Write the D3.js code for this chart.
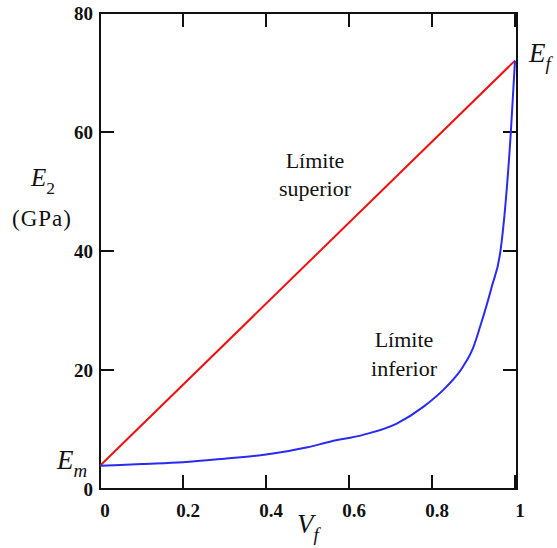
<!DOCTYPE html>
<html lang="es">
<head>
  <meta charset="UTF-8">
  <title>Límites E2</title>
  <script src="https://cdn.jsdelivr.net/npm/d3@7"></script>
  <style>
    * { margin: 0; padding: 0; }
    body { background: #fff; }
  </style>
</head>
<body>
  <div id="chart"></div>
  <script>
  // datos
  var xTicks = [0, 0.2, 0.4, 0.6, 0.8, 1];
  var yTicks = [0, 20, 40, 60, 80];
  var xTickLabels = ["0", "0.2", "0.4", "0.6", "0.8", "1"];
  // limite superior (regla de mezclas)
  var supVf = [0, 1];
  var supE = [3.9, 72];
  // limite inferior
  var infVf = [0, 0.1, 0.2, 0.3, 0.4, 0.5, 0.554, 0.634, 0.715, 0.779, 0.835, 0.875, 0.9, 0.916, 0.944, 0.965, 0.99, 1];
  var infE  = [3.9, 4.2, 4.5, 5.1, 5.8, 7.0, 7.95, 9.1, 11.0, 13.8, 17.2, 20.6, 23.9, 27.3, 34.0, 40.0, 60.0, 72.0];

  var width = 557, height = 548;
  var mLeft = 100, mRight = 515, mTop = 13, mBottom = 489;
  var serif = "'Liberation Serif', 'Times New Roman', serif";

  var svg = d3.select("#chart").append("svg")
      .attr("width", width)
      .attr("height", height)
      .attr("font-family", serif);

  var x = d3.scaleLinear().domain([0, 1]).range([mLeft, mRight]);
  var y = d3.scaleLinear().domain([0, 80]).range([mBottom, mTop]);
  var tick = 14;

  // marco
  svg.append("rect")
    .attr("x", mLeft).attr("y", mTop)
    .attr("width", mRight - mLeft + 2).attr("height", mBottom - mTop)
    .attr("fill", "none").attr("stroke", "#111").attr("stroke-width", 2);

  // marcas hacia dentro en los cuatro lados
  var g = svg.append("g").attr("stroke", "#111").attr("stroke-width", 2);
  xTicks.forEach(function (v) {
    g.append("line").attr("x1", x(v)).attr("x2", x(v)).attr("y1", mBottom).attr("y2", mBottom - tick);
    g.append("line").attr("x1", x(v)).attr("x2", x(v)).attr("y1", mTop).attr("y2", mTop + tick);
  });
  yTicks.forEach(function (v) {
    g.append("line").attr("x1", mLeft).attr("x2", mLeft + tick).attr("y1", y(v)).attr("y2", y(v));
    g.append("line").attr("x1", mRight + 2).attr("x2", mRight + 2 - tick).attr("y1", y(v)).attr("y2", y(v));
  });

  svg.selectAll(".xl").data(xTicks).enter().append("text")
    .attr("x", function (d) { return x(d) + 5; })
    .attr("y", 517)
    .attr("text-anchor", "middle")
    .attr("fill", "#111")
    .style("font-size", "19px")
    .style("font-weight", "600")
    .text(function (d, i) { return xTickLabels[i]; });

  svg.selectAll(".yl").data(yTicks).enter().append("text")
    .attr("x", 93)
    .attr("y", function (d) { return y(d); })
    .attr("dy", "0.35em")
    .attr("text-anchor", "end")
    .attr("fill", "#111")
    .style("font-size", "19px")
    .style("font-weight", "600")
    .text(function (d) { return d; });

  var line = d3.line()
    .x(function (d) { return x(d[0]); })
    .y(function (d) { return y(d[1]); });

  svg.append("path")
    .datum(d3.zip(supVf, supE))
    .attr("d", line)
    .attr("fill", "none").attr("stroke", "#ee1111").attr("stroke-width", 2);

  svg.append("path")
    .datum(d3.zip(infVf, infE))
    .attr("d", line.curve(d3.curveMonotoneX))
    .attr("fill", "none").attr("stroke", "#2a2af5").attr("stroke-width", 2);

  // textos
  function label(tx, ty, main, sub, size) {
    var t = svg.append("text").attr("x", tx).attr("y", ty).attr("fill", "#111")
      .style("font-size", size + "px").style("font-style", "italic");
    t.append("tspan").text(main);
    t.append("tspan").attr("dy", size * 0.3).style("font-size", (size * 0.7) + "px").text(sub);
    return t;
  }
  label(529, 62, "E", "f", 27);
  label(57, 469, "E", "m", 27);
  label(297, 533, "V", "f", 27);
  var e2 = label(31, 186, "E", "2", 25);
  e2.select("tspan:last-child").style("font-style", "normal");
  svg.append("text").attr("x", 42).attr("y", 226).attr("text-anchor", "middle").attr("fill", "#111")
    .style("font-size", "23px").style("letter-spacing", "1px").text("(GPa)");

  var notes = [
    { t: "Límite", x: 315, y: 168 },
    { t: "superior", x: 315, y: 196 },
    { t: "Límite", x: 404, y: 347 },
    { t: "inferior", x: 404, y: 376 }
  ];
  svg.selectAll(".note").data(notes).enter().append("text")
    .attr("x", function (d) { return d.x; })
    .attr("y", function (d) { return d.y; })
    .attr("text-anchor", "middle")
    .attr("fill", "#111")
    .style("font-size", "22px")
    .text(function (d) { return d.t; });
  </script>
</body>
</html>
